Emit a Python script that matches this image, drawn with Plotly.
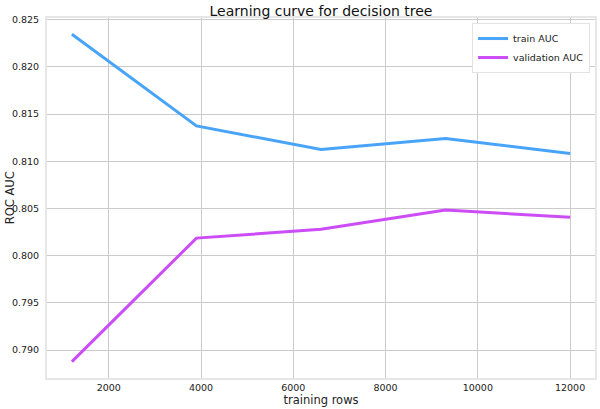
import plotly.graph_objects as go

# Learning curve values.
train_rows = [1200, 3900, 6600, 9300, 12000]
train_auc = [0.82345, 0.81375, 0.81124, 0.8124, 0.81082]
validation_auc = [0.78877, 0.80186, 0.80279, 0.80483, 0.80406]
x_ticks = [2000, 4000, 6000, 8000, 10000, 12000]
y_ticks = [0.790, 0.795, 0.800, 0.805, 0.810, 0.815, 0.820, 0.825]

font_family = "DejaVu Sans"

fig = go.Figure()
fig.add_trace(go.Scatter(x=train_rows, y=train_auc, mode="lines", name="train AUC",
                         line=dict(color="#48a4f8", width=3)))
fig.add_trace(go.Scatter(x=train_rows, y=validation_auc, mode="lines", name="validation AUC",
                         line=dict(color="#cc4cf7", width=3)))

fig.update_layout(
    width=600, height=409,
    margin=dict(l=47, r=5, t=18, b=31),
    paper_bgcolor="white", plot_bgcolor="white",
    font=dict(family=font_family, color="#222222"),
    title=dict(text="Learning curve for decision tree", x=0.535, xanchor="center",
               y=0.985, yanchor="top", font=dict(size=14, color="#111111")),
    legend=dict(x=0.991, y=0.986, xanchor="right", yanchor="top",
                bgcolor="white", bordercolor="#e3e3e3", borderwidth=1,
                font=dict(size=9.5), itemwidth=30, tracegroupgap=0),
    showlegend=True,
)

fig.update_xaxes(
    range=[660, 12540], tickvals=x_ticks, ticktext=[str(v) for v in x_ticks],
    showgrid=True, gridcolor="#cbcbcb", gridwidth=1,
    showline=True, mirror=True, linecolor="#e6e6e6", linewidth=2,
    zeroline=False, ticks="", tickfont=dict(size=9.5), automargin=False,
    title=dict(text="training rows", font=dict(size=11.5), standoff=2),
)
fig.update_yaxes(
    range=[0.78704, 0.82518], tickvals=y_ticks, ticktext=[f"{v:.3f}" for v in y_ticks],
    showgrid=True, gridcolor="#cbcbcb", gridwidth=1,
    showline=True, mirror=True, linecolor="#e6e6e6", linewidth=2,
    zeroline=False, ticks="", tickfont=dict(size=9.5), ticklabelstandoff=4,
    automargin=False,
)

# y axis title placed by hand so it sits off the page edge like the original
fig.add_annotation(text="ROC AUC", textangle=-90, xref="paper", yref="paper",
                   x=-0.067, y=0.5, xanchor="center", yanchor="middle",
                   showarrow=False, font=dict(size=11.5, color="#222222"))

# The page's default body margin would shift the figure by 8px.
fig.write_html("out.html", config={"displayModeBar": False},
               post_script="document.body.style.margin='0';")
